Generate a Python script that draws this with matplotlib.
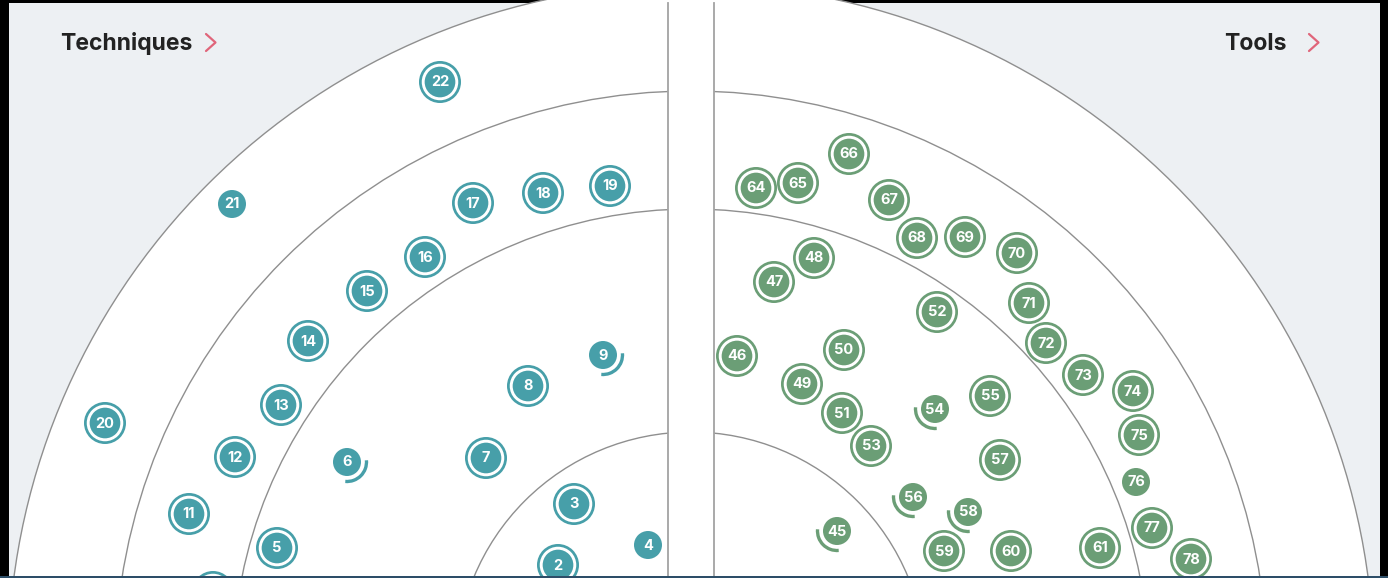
import numpy as np
import matplotlib
matplotlib.use("Agg")
import matplotlib.pyplot as plt
from matplotlib.patches import Circle, Arc, Rectangle

# --------------------
# Radar blips (positions, in pixel units)
# kind: 'ring' = no change, 'new' = plain dot, 'moved' = dot with arc
# --------------------
tech_ids = [2, 3, 4, 5, 6, 7, 8, 9, 10, 11, 12, 13, 14, 15, 16, 17, 18, 19, 20, 21, 22]
tech_x = [558, 574, 648, 277, 347, 486, 528, 603, 213, 189, 235, 281, 308, 367, 425, 473, 543, 610, 105, 232, 440]
tech_y = [565, 504, 545, 548, 462, 458, 386, 355, 592, 514, 457, 405, 341, 291, 257, 203, 193, 186, 423, 204, 82]
tech_kind = ['ring', 'ring', 'new', 'ring', 'moved', 'ring', 'ring', 'moved', 'ring', 'ring', 'ring',
             'ring', 'ring', 'ring', 'ring', 'ring', 'ring', 'ring', 'ring', 'new', 'ring']

tool_ids = [45, 46, 47, 48, 49, 50, 51, 52, 53, 54, 55, 56, 57, 58, 59, 60, 61,
            64, 65, 66, 67, 68, 69, 70, 71, 72, 73, 74, 75, 76, 77, 78]
tool_x = [837, 737, 774, 814, 802, 844, 842, 937, 871, 935, 990, 913, 1000, 968, 944, 1011, 1100,
          756, 798, 849, 889, 917, 965, 1017, 1029, 1046, 1083, 1133, 1139, 1136, 1152, 1191]
tool_y = [531, 356, 282, 258, 384, 350, 413, 312, 446, 409, 396, 497, 460, 512, 551, 551, 548,
          188, 183, 154, 200, 238, 237, 253, 303, 343, 375, 391, 435, 482, 528, 559]
tool_kind = ['moved', 'ring', 'ring', 'ring', 'ring', 'ring', 'ring', 'ring', 'ring', 'moved', 'ring',
             'moved', 'ring', 'moved', 'ring', 'ring', 'ring',
             'ring', 'ring', 'ring', 'ring', 'ring', 'ring', 'ring', 'ring', 'ring', 'ring', 'ring',
             'ring', 'new', 'ring', 'ring']

quadrant_titles = ['Techniques', 'Tools']

# --------------------
# Layout
# --------------------
W, H = 1388, 578
center = (691, 667)
ring_radii = [235, 458, 576, 683]
left_edge, right_edge = 668, 714

tech_color = '#479fa9'
tool_color = '#6b9e76'
line_color = '#8f8f8f'
bg_color = '#edf0f3'

plt.rcParams['font.family'] = ['Inter', 'DejaVu Sans']

fig = plt.figure(figsize=(W / 100, H / 100), dpi=100)
fig.patch.set_facecolor('black')
ax = fig.add_axes([0, 0, 1, 1])
ax.set_xlim(0, W)
ax.set_ylim(H, 0)
ax.axis('off')

# page background and the white radar disk
ax.add_patch(Rectangle((9, 3), 1371, 575, facecolor=bg_color, edgecolor='none', zorder=0))
disk = Circle(center, ring_radii[-1], facecolor='white', edgecolor='none', zorder=1)
ax.add_patch(disk)

# ring arcs, cut at the gap between the quadrants
left_clip = Rectangle((0, 0), left_edge, H, transform=ax.transData)
right_clip = Rectangle((right_edge, 0), W - right_edge, H, transform=ax.transData)
for r in ring_radii:
    for clip in (left_clip, right_clip):
        c = Circle(center, r, fill=False, edgecolor=line_color, lw=1.0, zorder=2)
        ax.add_patch(c)
        c.set_clip_path(clip)

for x0 in (left_edge, right_edge):
    ax.plot([x0, x0], [3, H], color='#a3a3a3', lw=1.3, zorder=2)


# --------------------
# Blips
# --------------------
def draw_blips(ids, xs, ys, kinds, color, arc_span):
    for n, x, y, k in zip(ids, xs, ys, kinds):
        if k == 'ring':
            ax.add_patch(Circle((x, y), 21, facecolor=color, edgecolor='none', zorder=4))
            ax.add_patch(Circle((x, y), 16.8, fill=False, edgecolor='white', lw=2.1, zorder=5))
        else:
            ax.add_patch(Circle((x, y), 14, facecolor=color, edgecolor='none', zorder=4))
            if k == 'moved':
                ax.add_patch(Arc((x, y), 39, 39, theta1=arc_span[0], theta2=arc_span[1],
                                 color=color, lw=2.4, zorder=4))
        ax.text(x, y + 0.5, str(n), color='white', fontsize=10.5, fontweight='bold',
                ha='center', va='center', zorder=6)


draw_blips(tech_ids, tech_x, tech_y, tech_kind, tech_color, (-5, 95))
draw_blips(tool_ids, tool_x, tool_y, tool_kind, tool_color, (85, 185))

# --------------------
# Quadrant titles
# --------------------
ax.text(60, 50, quadrant_titles[0], fontsize=16.5, fontweight='bold', color='#222222',
        ha='left', va='baseline', zorder=6)
ax.text(1287, 50, quadrant_titles[1], fontsize=16.5, fontweight='bold', color='#222222',
        ha='right', va='baseline', zorder=6)
for x0 in (206, 1309):
    ax.plot([x0, x0 + 9.5, x0], [34, 42.5, 51], color='#e0657a', lw=1.6,
            solid_capstyle='round', zorder=6)

# bottom strip
ax.add_patch(Rectangle((0, 575.5), W, 3, facecolor='#2d4e68', edgecolor='none', zorder=8))

fig.savefig('out.png', dpi=100, facecolor=fig.get_facecolor())
